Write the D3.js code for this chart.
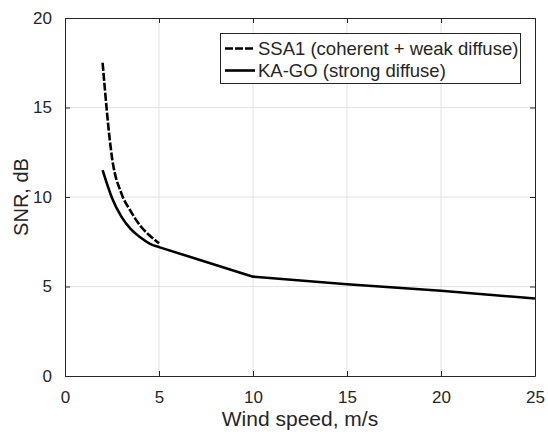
<!DOCTYPE html>
<html>
<head>
<meta charset="utf-8">
<script src="https://cdn.jsdelivr.net/npm/d3@7"></script>
<style>
  body { margin: 0; background: #fff; }
  text { font-family: "Liberation Sans", Arial, sans-serif; fill: #262626; }
</style>
</head>
<body>
<div id="chart"></div>
<script>
const WIDTH = 548
const HEIGHT = 436
const MARGIN = {top: 18, right: 13, bottom: 60, left: 65}

// data
const ssa1Wind = [2, 2.5, 3, 3.5, 4, 4.5, 5]
const ssa1Snr = [17.5, 12.2, 10.2, 9.2, 8.4, 7.85, 7.42]
const kagoWind = [2, 2.5, 3, 3.5, 4, 4.5, 5, 10, 15, 20, 25]
const kagoSnr = [11.5, 9.95, 8.9, 8.2, 7.75, 7.4, 7.2, 5.55, 5.13, 4.76, 4.33]
const xTicks = [0, 5, 10, 15, 20, 25]
const yTicks = [0, 5, 10, 15, 20]
const seriesNames = ['SSA1 (coherent + weak diffuse)', 'KA-GO (strong diffuse)']

const svg = d3.select('#chart').append('svg')
    .attr('width', WIDTH)
    .attr('height', HEIGHT)

const x = d3.scaleLinear().domain([0, 25]).range([MARGIN.left, WIDTH - MARGIN.right])
const y = d3.scaleLinear().domain([0, 20]).range([HEIGHT - MARGIN.bottom, MARGIN.top])

// grid
svg.append('g').selectAll('line.gx')
    .data(xTicks.slice(1, -1))
    .join('line')
    .attr('x1', d => x(d)).attr('x2', d => x(d))
    .attr('y1', y(0)).attr('y2', y(20))
    .attr('stroke', '#e3e3e3').attr('stroke-width', 1)
svg.append('g').selectAll('line.gy')
    .data(yTicks.slice(1, -1))
    .join('line')
    .attr('x1', x(0)).attr('x2', x(25))
    .attr('y1', d => y(d)).attr('y2', d => y(d))
    .attr('stroke', '#e3e3e3').attr('stroke-width', 1)

// axes (ticks inside, box on)
const bottomAxis = svg.append('g')
    .attr('transform', `translate(0,${y(0)})`)
    .call(d3.axisBottom(x).tickValues(xTicks).tickSizeInner(-5).tickSizeOuter(0).tickPadding(15))
const leftAxis = svg.append('g')
    .attr('transform', `translate(${x(0)},0)`)
    .call(d3.axisLeft(y).tickValues(yTicks).tickSizeInner(-5).tickSizeOuter(0).tickPadding(13))
const topAxis = svg.append('g')
    .attr('transform', `translate(0,${y(20)})`)
    .call(d3.axisTop(x).tickValues(xTicks).tickSizeInner(-5).tickSizeOuter(0).tickFormat(''))
const rightAxis = svg.append('g')
    .attr('transform', `translate(${x(25)},0)`)
    .call(d3.axisRight(y).tickValues(yTicks).tickSizeInner(-5).tickSizeOuter(0).tickFormat(''))

for (let a of [bottomAxis, leftAxis, topAxis, rightAxis]) {
    a.select('.domain').attr('stroke', '#262626').attr('stroke-width', 1)
    a.selectAll('.tick line').attr('stroke', '#262626')
    a.selectAll('.tick text')
        .style('font-size', '17px')
        .style('font-family', '"Liberation Sans", Arial, sans-serif')
        .attr('fill', '#262626')
}

// axis labels
svg.append('text')
    .text('Wind speed, m/s')
    .attr('text-anchor', 'middle')
    .attr('x', (x(0) + x(25)) / 2)
    .attr('y', 426)
    .style('font-size', '21px')

svg.append('text')
    .text('SNR, dB')
    .attr('text-anchor', 'middle')
    .attr('transform', `translate(28,${(y(0) + y(20)) / 2}) rotate(-90)`)
    .style('font-size', '20px')

// lines: smooth below 5 m/s, straight segments above
let smooth = d3.line().x(d => x(d[0])).y(d => y(d[1])).curve(d3.curveMonotoneX)
let straight = d3.line().x(d => x(d[0])).y(d => y(d[1]))

let kago = d3.zip(kagoWind, kagoSnr)
let kagoLow = kago.filter(d => d[0] <= 5)
let kagoHigh = kago.filter(d => d[0] >= 5)

svg.append('path')
    .attr('d', smooth(kagoLow) + straight(kagoHigh).replace(/^M/, 'L'))
    .attr('fill', 'none')
    .attr('stroke', '#000')
    .attr('stroke-width', 2.6)
    .attr('stroke-linejoin', 'round')

svg.append('path')
    .datum(d3.zip(ssa1Wind, ssa1Snr))
    .attr('d', smooth)
    .attr('fill', 'none')
    .attr('stroke', '#000')
    .attr('stroke-width', 2.6)
    .attr('stroke-dasharray', '8,2')

// legend
let legend = svg.append('g')
legend.append('rect')
    .attr('x', 220.5).attr('y', 33.5)
    .attr('width', 300).attr('height', 50)
    .attr('fill', '#fff')
    .attr('stroke', '#262626').attr('stroke-width', 1)

seriesNames.forEach((name, i) => {
    let cy = 48.5 + i * 22
    legend.append('line')
        .attr('x1', 225).attr('x2', 255)
        .attr('y1', cy).attr('y2', cy)
        .attr('stroke', '#000')
        .attr('stroke-width', 2.6)
        .attr('stroke-dasharray', i === 0 ? '8,2' : null)
    legend.append('text')
        .text(name)
        .attr('x', 258)
        .attr('y', cy + 6)
        .style('font-size', '18.5px')
})
</script>
</body>
</html>
